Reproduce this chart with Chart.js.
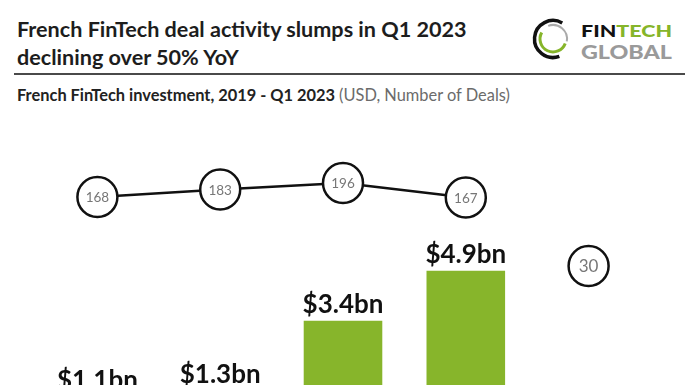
<!DOCTYPE html>
<html>
<head>
<meta charset="utf-8">
<script src="https://cdn.jsdelivr.net/npm/chart.js@4.4.0/dist/chart.umd.min.js"></script>
<style>
  html, body { margin: 0; padding: 0; background: #fff; overflow: hidden; }
  body { width: 696px; height: 385px; position: relative; font-family: Lato, sans-serif; }
  .title { position: absolute; left: 17px; top: 15px; font-size: 21.6px; line-height: 28px; font-weight: bold; color: #1d1d1d; white-space: nowrap; }
  .rule { position: absolute; left: 14px; top: 73px; width: 671px; height: 2px; background: #4a4a4a; }
  .subtitle { position: absolute; left: 17px; top: 85px; font-size: 16.4px; line-height: 20px; font-weight: bold; color: #222; white-space: nowrap; }
  .subtitle span { font-weight: normal; color: #6b6b6b; }
  .logo { position: absolute; left: 530px; top: 14px; }
  #chart { position: absolute; left: 0; top: 110px; }
</style>
</head>
<body>
<div class="title">French FinTech deal activity slumps in Q1 2023<br>declining over 50% YoY</div>
<div class="rule"></div>
<div class="subtitle">French FinTech investment, 2019 - Q1 2023 <span>(USD, Number of Deals)</span></div>
<svg class="logo" width="150" height="52" viewBox="0 0 150 52">
  <path d="M 32.25 8.98 A 18.5 18.5 0 1 0 29.33 42.38" fill="none" stroke="#111" stroke-width="3.5"/>
  <path d="M 11.74 18.5 A 13 13 0 1 0 35.22 29.45" fill="none" stroke="#86b52a" stroke-width="3"/>
  <path d="M 18.21 11.84 A 14 14 0 0 1 36.79 27.43" fill="none" stroke="#aaa" stroke-width="2"/>
  <text x="51" y="23" font-family="Lato" font-weight="900" font-size="17" textLength="91" lengthAdjust="spacingAndGlyphs"><tspan fill="#111">FIN</tspan><tspan fill="#86b52a">TECH</tspan></text>
  <text x="51" y="45" font-family="Lato" font-weight="900" font-size="18" textLength="91" lengthAdjust="spacingAndGlyphs" fill="#9a9a9a">GLOBAL</text>
</svg>
<canvas id="chart" width="696" height="340"></canvas>
<script>
const categories = ['2019', '2020', '2021', '2022', 'Q1 2023'];
const investment = [1.1, 1.3, 3.4, 4.9, 0.4];
const investmentLabels = ['$1.1bn', '$1.3bn', '$3.4bn', '$4.9bn', '$0.4bn'];
const deals = [168, 183, 196, 167, 30];

// draws the $ labels over the bars and the deal counts inside the circles
const labelPlugin = {
  id: 'labels',
  afterDatasetsDraw(chart) {
    const ctx = chart.ctx;
    ctx.save();
    ctx.textAlign = 'center';

    const bars = chart.getDatasetMeta(0).data;
    ctx.font = 'bold 26px Lato';
    ctx.fillStyle = '#111';
    ctx.textBaseline = 'alphabetic';
    bars.forEach((bar, i) => {
      ctx.fillText(investmentLabels[i], bar.x, bar.y - 8);
    });

    const pts = chart.getDatasetMeta(1).data;
    ctx.fillStyle = '#777';
    ctx.textBaseline = 'middle';
    pts.forEach((p, i) => {
      ctx.font = (i === pts.length - 1 ? '17px' : '13.5px') + ' Lato';
      ctx.fillText(String(deals[i]), p.x, p.y + 1);
    });
    ctx.restore();
  }
};

new Chart(document.getElementById('chart'), {
  data: {
    labels: categories,
    datasets: [{
      type: 'bar',
      data: investment,
      backgroundColor: '#87b52b',
      barPercentage: 0.64,
      categoryPercentage: 1,
      yAxisID: 'y',
      order: 2
    }, {
      type: 'line',
      data: deals,
      borderColor: '#111',
      borderWidth: 2.5,
      pointRadius: 20,
      pointBackgroundColor: '#fff',
      pointBorderColor: '#111',
      pointBorderWidth: 2.5,
      segment: {
        // no line joining the full-year figures to Q1 2023
        borderColor: ctx => ctx.p1DataIndex === deals.length - 1 ? 'rgba(0,0,0,0)' : '#111'
      },
      yAxisID: 'y1',
      order: 1
    }]
  },
  options: {
    responsive: false,
    animation: false,
    layout: { autoPadding: false, padding: { left: 36, right: 46, top: 0, bottom: 16 } },
    plugins: {
      legend: { display: false },
      tooltip: { enabled: false }
    },
    scales: {
      x: { display: false },
      y: { display: false, min: 0, max: 9.72 },
      y1: { display: false, min: -306, max: 342 }
    }
  },
  plugins: [labelPlugin]
});
</script>
</body>
</html>
